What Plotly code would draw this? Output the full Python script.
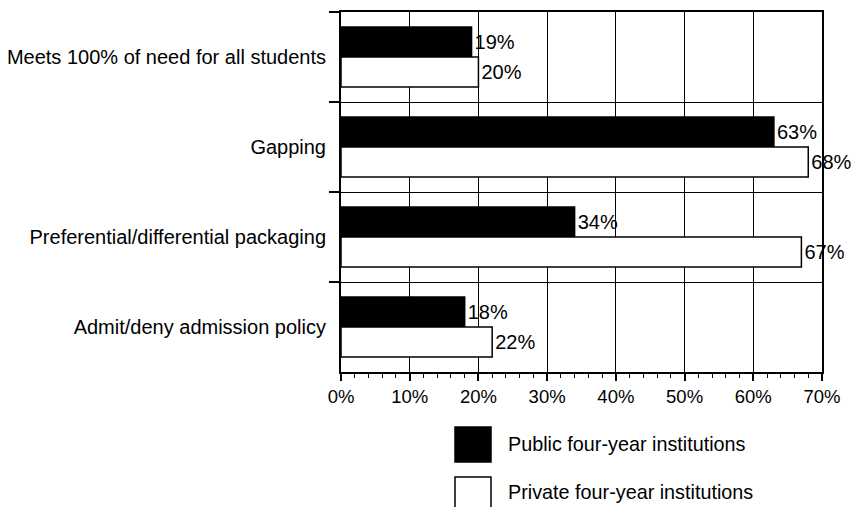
import plotly.graph_objects as go

# Share of institutions using each aid-packaging practice
categories = [
    "Meets 100% of need for all students",
    "Gapping",
    "Preferential/differential packaging",
    "Admit/deny admission policy",
]
public_pct = [19, 63, 34, 18]
private_pct = [20, 68, 67, 22]
series_names = ["Public four-year institutions", "Private four-year institutions"]
x_ticks = [0, 10, 20, 30, 40, 50, 60, 70]
x_tick_labels = [f"{v}%" for v in x_ticks]

FONT = "Liberation Sans, Arial, Helvetica, sans-serif"
W, H = 852, 507
L, R, T, B = 341, 30, 12, 135

fig = go.Figure()
fig.add_trace(go.Bar(
    y=categories, x=public_pct, orientation="h", name=series_names[0],
    marker=dict(color="black", line=dict(color="black", width=1.5)),
    text=[f"{v}%" for v in public_pct], textposition="outside",
    textfont=dict(size=20, color="black", family=FONT),
    cliponaxis=False, showlegend=False,
))
fig.add_trace(go.Bar(
    y=categories, x=private_pct, orientation="h", name=series_names[1],
    marker=dict(color="white", line=dict(color="black", width=1.5)),
    text=[f"{v}%" for v in private_pct], textposition="outside",
    textfont=dict(size=20, color="black", family=FONT),
    cliponaxis=False, showlegend=False,
))

fig.update_layout(
    width=W, height=H,
    margin=dict(l=L, r=R, t=T, b=B, pad=0, autoexpand=False),
    paper_bgcolor="white", plot_bgcolor="white",
    barmode="group", bargap=1/3, bargroupgap=0,
    font=dict(family=FONT, size=18, color="black"),
    showlegend=False,
    uniformtext=dict(mode=False),
)

fig.update_xaxes(
    range=[0, 70], tickvals=x_ticks, ticktext=x_tick_labels,
    showgrid=True, gridcolor="black", gridwidth=1.3,
    showline=True, linecolor="black", linewidth=2, mirror=True,
    ticks="outside", ticklen=7, tickwidth=1.5, tickcolor="black",
    minor=dict(dtick=2, ticks="outside", ticklen=4, tickwidth=1.2,
               tickcolor="black", showgrid=False),
    tickfont=dict(size=18.5, family=FONT), zeroline=False, fixedrange=True,
    automargin=False,
)
fig.update_yaxes(
    categoryorder="array", categoryarray=categories, autorange="reversed",
    tickson="boundaries", ticks="outside", ticklen=10, tickwidth=1.5,
    tickcolor="black", ticklabelstandoff=9,
    showgrid=True, gridcolor="black", gridwidth=1.3,
    showline=True, linecolor="black", linewidth=2, mirror=True,
    tickfont=dict(size=20, family=FONT), fixedrange=True,
    automargin=False,
)

# Legend drawn below the plot: swatches plus labels
pw, ph = W - L - R, H - T - B


def px_x(px):
    return (px - L) / pw


def px_y(py):
    return (H - B - py) / ph


swatches = [
    dict(fill="black", y0=427, y1=462, ty=444),
    dict(fill="white", y0=477, y1=515, ty=492),
]
for sw, label in zip(swatches, series_names):
    fig.add_shape(
        type="rect", xref="paper", yref="paper",
        x0=px_x(455), x1=px_x(491), y0=px_y(sw["y0"]), y1=px_y(sw["y1"]),
        fillcolor=sw["fill"], line=dict(color="black", width=1.5),
    )
    fig.add_annotation(
        xref="paper", yref="paper", x=px_x(506), y=px_y(sw["ty"]),
        text=label, showarrow=False, xanchor="left", yanchor="middle",
        font=dict(size=19.8, family=FONT, color="black"),
    )

fig.write_html("out.html")
